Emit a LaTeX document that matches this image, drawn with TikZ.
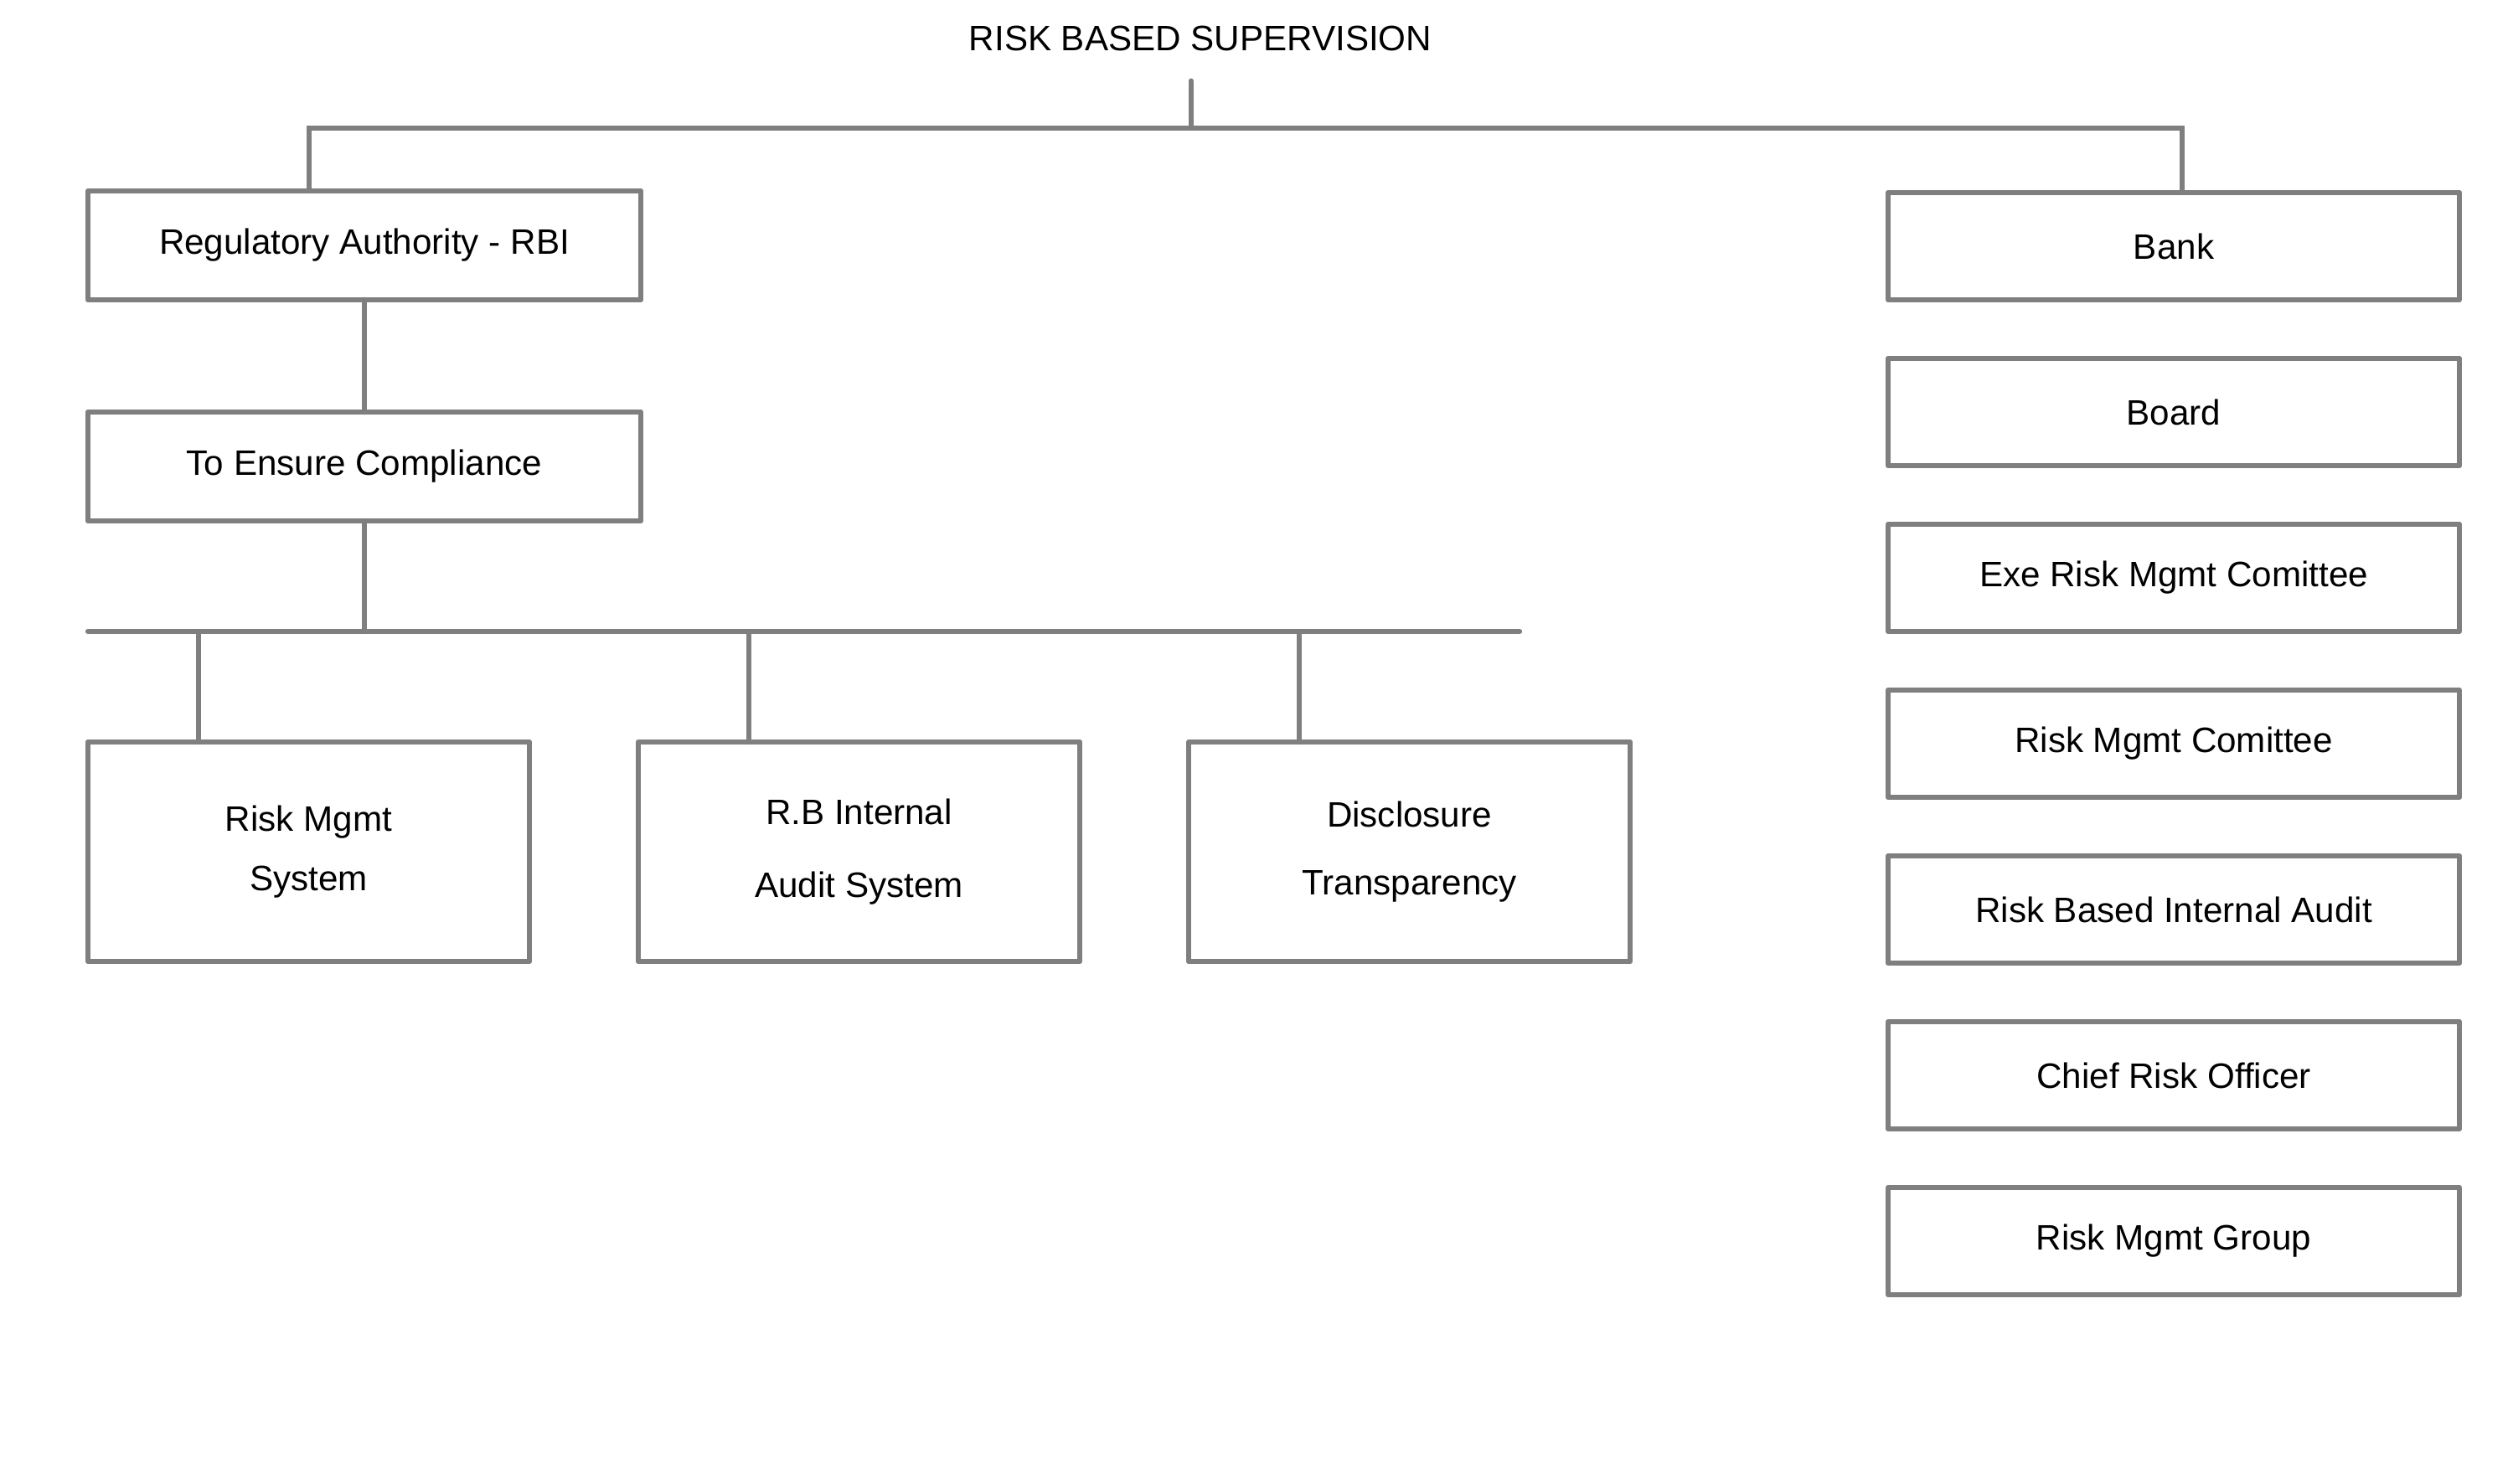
\documentclass[tikz,border=0pt]{standalone}
\usepackage{fontspec}
\setmainfont{Liberation Sans}
\usetikzlibrary{positioning}
\definecolor{linegray}{HTML}{7F7F7F}

\begin{document}
\begin{tikzpicture}[
    node distance=7mm,
    conn/.style={draw=linegray, line width=1.8pt, line cap=round},
    box/.style={draw=linegray, line width=1.8pt, line join=round, outer sep=0pt,
                align=center, font=\fontsize{12}{14.4}\selectfont},
    widebox/.style={box, minimum width=66mm, minimum height=13mm},
    tallbox/.style={box, minimum width=52.7mm, minimum height=26.2mm},
    bankbox/.style={box, minimum width=68.2mm, minimum height=12.8mm},
]
\useasboundingbox (0,0) rectangle (30,-17.71);
% Title
\node[font=\fontsize{12}{14.4}\selectfont, inner sep=0pt] (title) at (14.33,-0.46)
    {RISK BASED SUPERVISION};
\coordinate (hub) at (14.22,-1.53);
% Regulator side
\node[widebox] (rbi) at (4.35,-2.93) {Regulatory Authority - RBI};
\node[widebox, below=13.4mm of rbi] (comp) {To Ensure Compliance};
\node[tallbox, below right=26.4mm and 0mm of comp.south west] (rms)
    {Risk Mgmt\\[5.6pt]System};
\node[tallbox, right=13mm of rms] (audit) {R.B Internal\\[10.6pt]Audit System};
\node[tallbox, right=13mm of audit] (disc) {Disclosure\\[8.4pt]Transparency};
% Bank side
\node[bankbox] (bank) at (25.95,-2.94) {Bank};
\node[bankbox, below=of bank] (board) {Board};
\node[bankbox, below=of board] (exe) {Exe Risk Mgmt Comittee};
\node[bankbox, below=of exe] (rmc) {Risk Mgmt Comittee};
\node[bankbox, below=of rmc] (rbaudit) {Risk Based Internal Audit};
\node[bankbox, below=of rbaudit] (cro) {Chief Risk Officer};
\node[bankbox, below=of cro] (group) {Risk Mgmt Group};

% Connectors
\draw[conn] (title.south -| hub) ++(0,-3.5mm) -- (hub);
\draw[conn] ([xshift=-6.6mm]rbi.north) |- (hub) -| ([xshift=1mm]bank.north);
\draw[conn] (rbi) -- (comp);
\coordinate[below=13.2mm of comp.south] (split);
\draw[conn] (comp) -- (split);
\coordinate (busend) at ([xshift=-13.2mm]disc.north east);
\draw[conn] (rms.west |- split) -- (busend |- split);
\foreach \b in {rms,audit,disc} {
  \coordinate (drop) at ([xshift=13.2mm]\b.north west);
  \draw[conn] (drop |- split) -- (drop);
}
\end{tikzpicture}
\end{document}
